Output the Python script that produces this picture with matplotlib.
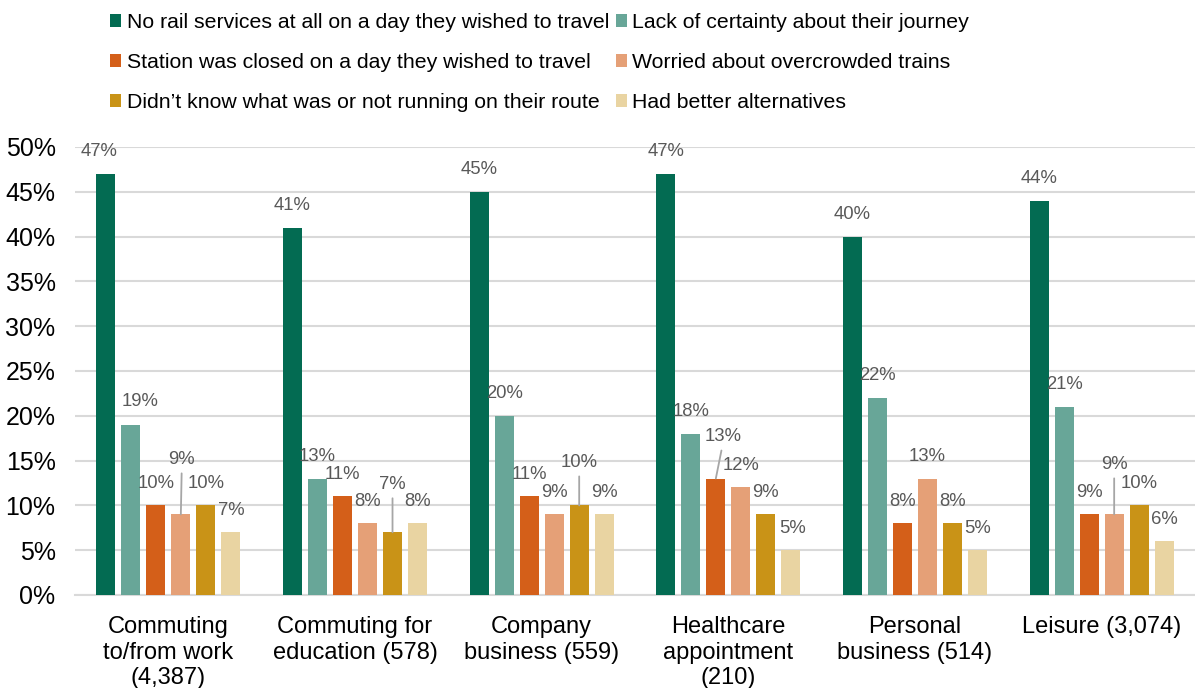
import numpy as np
import matplotlib
matplotlib.use("Agg")
import matplotlib.pyplot as plt

plt.rcParams['font.family'] = ['Liberation Sans', 'DejaVu Sans']

categories = ["Commuting\nto/from work\n(4,387)", "Commuting for\neducation (578)",
              "Company\nbusiness (559)", "Healthcare\nappointment\n(210)",
              "Personal\nbusiness (514)", "Leisure (3,074)"]
series = ["No rail services at all on a day they wished to travel",
          "Lack of certainty about their journey",
          "Station was closed on a day they wished to travel",
          "Worried about overcrowded trains",
          "Didn\u2019t know what was or not running on their route",
          "Had better alternatives"]
no_service = [47, 41, 45, 47, 40, 44]
uncertain = [19, 13, 20, 18, 22, 21]
station_closed = [10, 11, 11, 13, 8, 9]
overcrowded = [9, 8, 9, 12, 13, 9]
didnt_know = [10, 7, 10, 9, 8, 10]
alternatives = [7, 8, 9, 5, 5, 6]
values = [no_service, uncertain, station_closed, overcrowded, didnt_know, alternatives]
colors = ["#036B52", "#68A698", "#D45F19", "#E5A077", "#C99317", "#E9D4A2"]

# label nudges in pixels (dx, dy above bar top); leader=True draws a connector
label_pos = {
    (0, 0): (-7, 22, False), (1, 0): (9, 23, False),
    (3, 0): (1, 55, True),
    (4, 1): (0, 48, True),
    (4, 2): (0, 43, True),
    (2, 3): (7, 42, True), (5, 3): (2, 22, False),
    (3, 5): (0, 50, True),
}

fig = plt.figure(figsize=(11.95, 6.88), dpi=100)
ax = fig.add_axes([75 / 1195, 1 - 595 / 688, 1120 / 1195, 448 / 688])

x = np.arange(len(categories))
step = 0.134
width = 0.102
bars = []
for i, (vals, col) in enumerate(zip(values, colors)):
    pos = x + (i - 2.5) * step
    b = ax.bar(pos, vals, width, color=col, label=series[i], zorder=3)
    bars.append(b)
    for j, (px, v) in enumerate(zip(pos, vals)):
        dx, dy, leader = label_pos.get((i, j), (0, 22, False))
        ax.annotate(f"{v}%", (px, v), xytext=(dx, dy), textcoords="offset pixels",
                    ha="center", va="center", fontsize=13.3, color="#595959", zorder=4)
        if leader:
            ax.annotate("", (px, v), xytext=(dx * 0.8, dy - 14), textcoords="offset pixels",
                        arrowprops=dict(arrowstyle="-", color="#A6A6A6", lw=1.3,
                                        shrinkA=0, shrinkB=0), zorder=4)

ax.set_xlim(-0.5, len(categories) - 0.5)
ax.set_ylim(0, 50)
ax.set_yticks(np.arange(0, 51, 5))
ax.set_yticklabels([f"{t}%" for t in range(0, 51, 5)], fontsize=18)
ax.set_xticks(x)
ax.set_xticklabels(categories, fontsize=17, linespacing=1.22, va="top")
ax.tick_params(axis="both", length=0)
ax.tick_params(axis="y", pad=14)
ax.tick_params(axis="x", pad=15)
ax.grid(axis="y", color="#D9D9D9", lw=1.5, zorder=0)
for s in ["top", "right", "left"]:
    ax.spines[s].set_visible(False)
ax.spines["bottom"].set_color("#D9D9D9")
ax.spines["bottom"].set_linewidth(1.5)

order = [0, 2, 4, 1, 3, 5]
handles = [bars[k] for k in order]
labels = [series[k] for k in order]
fig.legend(handles, labels, ncol=2, loc="upper left", bbox_to_anchor=(97 / 1195, 1.0),
           frameon=False, fontsize=15.3, handlelength=0.55, handleheight=0.55,
           handletextpad=0.25, columnspacing=0.3, labelspacing=1.0, borderaxespad=0.2)

fig.savefig("out.png", dpi=100)
